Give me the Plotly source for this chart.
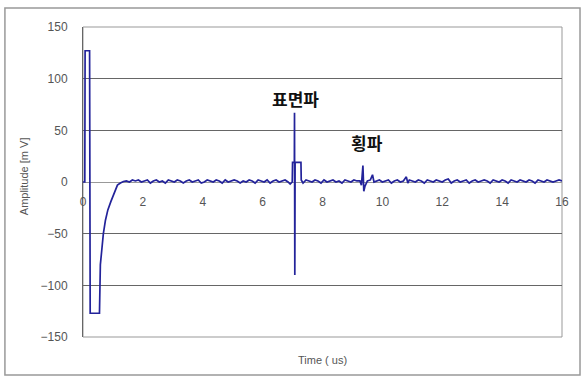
import plotly.graph_objects as go

time_us = [
    0, 0.06, 0.07, 0.22, 0.24, 0.55, 0.58, 0.63, 0.68, 0.75,
    0.83, 0.93, 1.0, 1.08, 1.15, 1.25, 1.35, 1.45, 1.55, 1.65,
    1.75, 1.85, 1.95, 2.05, 2.15, 2.25, 2.35, 2.45, 2.55, 2.65,
    2.75, 2.85, 2.95, 3.05, 3.15, 3.25, 3.35, 3.45, 3.55, 3.65,
    3.75, 3.85, 3.95, 4.05, 4.15, 4.25, 4.35, 4.45, 4.55, 4.65,
    4.75, 4.85, 4.95, 5.05, 5.15, 5.25, 5.35, 5.45, 5.55, 5.65,
    5.75, 5.85, 5.95, 6.05, 6.15, 6.25, 6.35, 6.45, 6.55, 6.65,
    6.75, 6.85, 6.92, 6.99, 7.0, 7.06, 7.065, 7.075, 7.085, 7.28,
    7.29, 7.35, 7.45, 7.55, 7.65, 7.75, 7.85, 7.95, 8.05, 8.15,
    8.25, 8.35, 8.45, 8.55, 8.65, 8.75, 8.85, 8.95, 9.05, 9.15,
    9.25, 9.3, 9.35, 9.38, 9.42, 9.5, 9.6, 9.67, 9.72, 9.8,
    9.9, 10.0, 10.1, 10.2, 10.3, 10.4, 10.5, 10.6, 10.7, 10.8,
    10.85, 10.9, 11.0, 11.1, 11.2, 11.3, 11.4, 11.5, 11.6, 11.7,
    11.8, 11.9, 12.0, 12.1, 12.2, 12.3, 12.4, 12.5, 12.6, 12.7,
    12.8, 12.9, 13.0, 13.1, 13.2, 13.3, 13.4, 13.5, 13.6, 13.7,
    13.8, 13.9, 14.0, 14.1, 14.2, 14.3, 14.4, 14.5, 14.6, 14.7,
    14.8, 14.9, 15.0, 15.1, 15.2, 15.3, 15.4, 15.5, 15.6, 15.7,
    15.8, 15.9, 16.0,
]

amplitude_mv = [
    0, 0, 127, 127, -127, -127, -80, -62, -50, -37,
    -27, -19, -14, -8, -3, -1, 0.5, 1, 0, 2,
    1, 2, 0, 1, 2, -1, 1, 2, 0, 1,
    -1, 2, 1, 0, 2, 1, -1, 1, 2, 0,
    1, 2, -1, 0, 2, 1, 0, 2, 1, -1,
    2, 0, 1, 2, 1, -1, 1, 0, 2, 1,
    -1, 2, 1, 0, 2, -1, 1, 2, 0, 1,
    2, 0, -2, 0, 19, 19, 67, -90, 19, 19,
    2, -1, 2, 1, 0, 2, 1, -1, 2, 0,
    1, 2, 0, 1, -1, 2, 1, 0, 2, 1,
    1, -3, 16, -9, -4, 1, 2, 7, 0, 1,
    2, 0, 1, 2, -1, 1, 2, 0, 1, 5,
    -1, 2, 1, 0, 2, 1, -1, 2, 1, 0,
    2, 1, 0, 2, 3, -1, 1, 2, 0, 1,
    2, -1, 1, 2, 0, 1, 2, 1, -1, 2,
    1, 0, 2, 1, -1, 2, 1, 0, 2, 1,
    0, 2, 1, -1, 2, 1, 0, 2, 1, 0,
    1, 2, 1,
]

x_ticks = [0, 2, 4, 6, 8, 10, 12, 14, 16]
y_ticks = [-150, -100, -50, 0, 50, 100, 150]

labels = ["표면파", "횡파"]
label_x = [7.1, 9.5]
label_y = [81, 38]

fig = go.Figure()
fig.add_trace(go.Scatter(
    x=time_us, y=amplitude_mv, mode="lines",
    line=dict(color="#23239a", width=1.7), showlegend=False,
))

tickfont = dict(family="Liberation Sans, Arial, sans-serif", size=12, color="#555")

fig.update_layout(
    width=582, height=377,
    margin=dict(l=83, r=20, t=27, b=40),
    paper_bgcolor="white", plot_bgcolor="white",
    xaxis=dict(range=[0, 16], tickvals=x_ticks, showgrid=False, zeroline=False,
               showline=False, anchor="free", position=0.5, tickfont=tickfont,
               ticks="outside", ticklen=9, tickcolor="rgba(0,0,0,0)", fixedrange=True),
    yaxis=dict(range=[-150, 150], tickvals=y_ticks, showgrid=True, gridcolor="#666",
               gridwidth=1, zeroline=True, zerolinecolor="#999", zerolinewidth=1,
               showline=True, linecolor="#666", linewidth=1, tickfont=tickfont,
               ticks="", ticklabelstandoff=12, fixedrange=True),
)

# plot area border and outer frame
fig.add_shape(type="rect", xref="paper", yref="paper", x0=0, x1=1, y0=0, y1=1,
              line=dict(color="#999", width=1), layer="below")
fig.add_shape(type="rect", xref="paper", yref="paper",
              x0=-0.163, x1=1.0376, y0=-0.1226, y1=1.0613,
              line=dict(color="#999", width=1.5))

for txt, lx, ly in zip(labels, label_x, label_y):
    fig.add_annotation(x=lx, y=ly, text=f"<b>{txt}</b>", showarrow=False,
                       xanchor="center", yanchor="middle",
                       font=dict(family="Noto Sans CJK KR", size=17, color="#111"))

fig.add_annotation(xref="paper", yref="paper", x=0.499, y=-0.074,
                   xanchor="center", yanchor="middle",
                   text="Time ( us)", showarrow=False,
                   font=dict(family="Liberation Sans, Arial, sans-serif", size=11, color="#555"))
fig.add_annotation(xref="paper", yref="paper", x=-0.123, y=0.519, textangle=-90,
                   xanchor="center", yanchor="middle",
                   text="Amplitude [m V]", showarrow=False,
                   font=dict(family="Liberation Sans, Arial, sans-serif", size=11, color="#555"))

fig.write_html("out.html", config={"displayModeBar": False},
               post_script="document.body.style.margin='0';document.body.style.overflow='hidden';")
